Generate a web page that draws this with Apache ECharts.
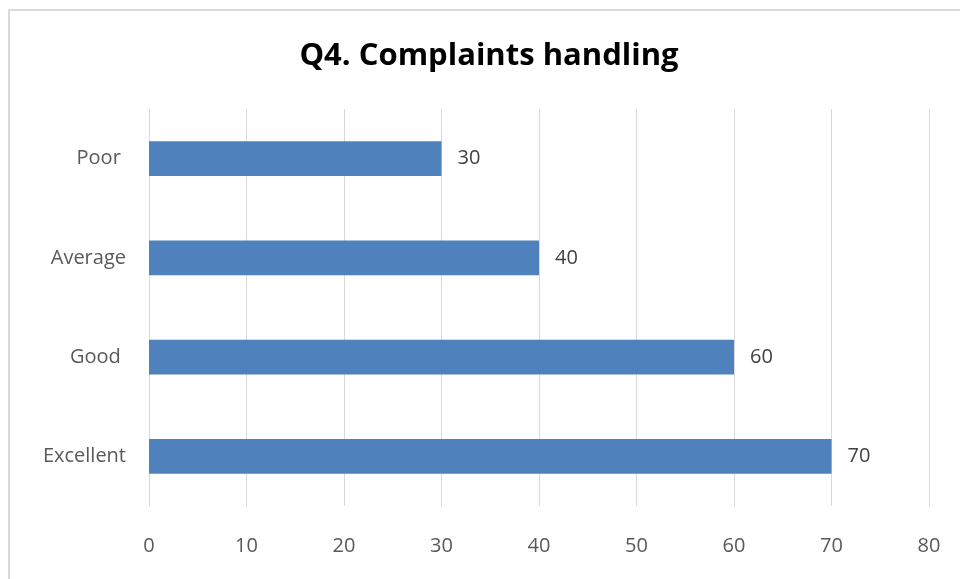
<!DOCTYPE html>
<html>
<head>
<meta charset="utf-8">
<script src="https://cdn.jsdelivr.net/npm/echarts@6/dist/echarts.min.js"></script>
<style>
html,body{margin:0;padding:0;background:#fff;}
#main{width:960px;height:579px;}
</style>
</head>
<body>
<div id="main"></div>
<script>
// data, bottom to top
var categories = ['Excellent', 'Good ', 'Average', 'Poor '];
var values = [70, 60, 40, 30];
var axisMin = 0, axisMax = 80, axisStep = 10;

var chart = echarts.init(document.getElementById('main'));
var option = {
  animation: false,
  textStyle: { fontFamily: '"Open Sans", sans-serif' },
  title: {
    text: 'Q4. Complaints handling',
    left: 484,
    textAlign: 'center',
    top: 36,
    textStyle: { fontSize: 31, fontWeight: 'bold', color: '#000', fontFamily: '"Open Sans", sans-serif' }
  },
  graphic: [{
    type: 'rect',
    shape: { x: 9, y: 10, width: 1000, height: 1000 },
    style: { fill: 'none', stroke: '#d9d9d9', lineWidth: 2 },
    silent: true
  }],
  grid: { left: 149, right: 31, top: 109, bottom: 73 },
  xAxis: {
    type: 'value',
    min: axisMin,
    max: axisMax,
    interval: axisStep,
    axisLine: { show: false },
    axisTick: { show: false },
    axisLabel: { color: '#595959', fontSize: 20, margin: 30 },
    splitLine: { lineStyle: { color: '#d9d9d9', width: 1 } }
  },
  yAxis: {
    type: 'category',
    data: categories,
    axisLine: { show: false },
    axisTick: { show: false },
    axisLabel: { color: '#595959', fontSize: 20, margin: 23, padding: [3, 0, 0, 0] }
  },
  series: [{
    type: 'bar',
    data: values,
    barWidth: '35%',
    itemStyle: { color: '#4f81bd' },
    label: {
      show: true,
      position: 'right',
      distance: 16,
      color: '#404040',
      fontSize: 20,
      padding: [3, 0, 0, 0]
    }
  }]
};
chart.setOption(option);
</script>
</body>
</html>
